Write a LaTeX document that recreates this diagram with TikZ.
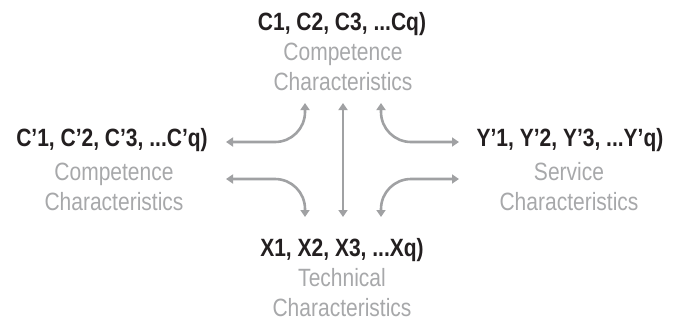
\documentclass[tikz,border=0pt]{standalone}
\usepackage{fontspec}
\setmainfont{Liberation Sans}[FakeStretch=0.84]
\usepackage{xcolor}
\usetikzlibrary{arrows.meta,positioning}
\definecolor{labeldark}{HTML}{231F20}
\definecolor{labelgrey}{HTML}{A7A8AA}
\definecolor{flowgrey}{HTML}{A0A1A3}
\tikzset{
  headlabel/.style={font=\fontsize{25}{30}\selectfont\bfseries,text=labeldark,inner sep=0pt},
  sublabel/.style={font=\fontsize{25}{30}\selectfont,text=labelgrey,align=center,inner sep=0pt},
  flow/.style={{Triangle[width=9pt,length=7pt]}-{Triangle[width=9pt,length=7pt]},line width=2.6pt,flowgrey},
  curvedflow/.style={flow,rounded corners=30pt}
}
\begin{document}
\begin{tikzpicture}[x=1pt,y=-1pt]
  \useasboundingbox (0,0) rectangle (675,322);
  % labels
  \node[headlabel] (ctop) at (342,24) {C1, C2, C3, ...Cq)};
  \node[sublabel] (ctopsub) at (343,67) {Competence\\Characteristics};
  \node[headlabel] (cleft) at (112,140) {C'1, C'2, C'3, ...C'q)};
  \node[sublabel] (cleftsub) at (114,187) {Competence\\Characteristics};
  \node[headlabel] (yright) at (570,140) {Y'1, Y'2, Y'3, ...Y'q)};
  \node[sublabel] (yrightsub) at (569,187) {Service\\Characteristics};
  \node[headlabel] (xbot) at (342,250) {X1, X2, X3, ...Xq)};
  \node[sublabel] (xbotsub) at (342,293) {Technical\\Characteristics};
  % arrow ends
  \coordinate (tl) at (305,103);
  \coordinate (tm) at (343,103);
  \coordinate (tr) at (381,103);
  \coordinate (bl) at (305,217);
  \coordinate (bm) at (343,217);
  \coordinate (br) at (381,217);
  \coordinate (lu) at (226,142);
  \coordinate (ll) at (226,179);
  \coordinate (ru) at (459,142);
  \coordinate (rl) at (459,179);
  \draw[curvedflow] (lu) -| (tl);
  \draw[curvedflow] (ll) -| (bl);
  \draw[curvedflow] (ru) -| (tr);
  \draw[curvedflow] (rl) -| (br);
  \draw[flow] (tm) -- (bm);
\end{tikzpicture}
\end{document}
